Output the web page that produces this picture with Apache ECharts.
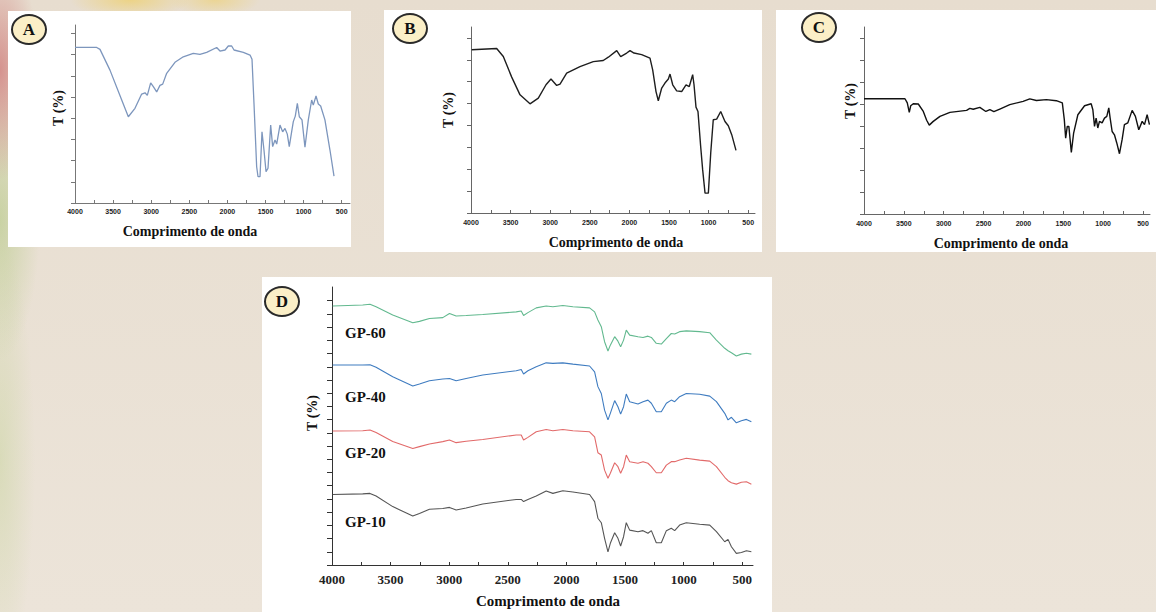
<!DOCTYPE html>
<html>
<head>
<meta charset="utf-8">
<script src="https://cdn.jsdelivr.net/npm/echarts@6/dist/echarts.min.js"></script>
<style>
  html, body { margin: 0; padding: 0; }
  body {
    width: 1156px; height: 612px; overflow: hidden; position: relative;
    background:
      radial-gradient(ellipse 40px 110px at 0px 70px, rgba(205, 115, 115, 0.7), transparent),
      radial-gradient(ellipse 40px 140px at 0px 220px, rgba(175, 200, 125, 0.55), transparent),
      radial-gradient(ellipse 35px 220px at 0px 460px, rgba(195, 210, 150, 0.45), transparent),
      radial-gradient(ellipse 60px 18px at 130px 0px, rgba(238, 208, 110, 0.75), transparent),
      radial-gradient(ellipse 45px 16px at 215px 0px, rgba(238, 208, 110, 0.6), transparent),
      linear-gradient(#e7ddcf, #ece4d9);
  }
  .panel { position: absolute; background: #fff; }
  .tag {
    position: absolute; width: 32px; height: 27px; margin: -15px 0 0 -17px;
    border: 2px solid #2a2a2a; border-radius: 50%; background: #fbefc7;
    font: bold 17px "Liberation Serif", serif; color: #111;
    text-align: center; line-height: 27px;
  }
  #chart { position: absolute; left: 0; top: 0; width: 1156px; height: 612px; }
</style>
</head>
<body>
<div class="panel" style="left:8px;top:11px;width:343px;height:236px"></div>
<div class="panel" style="left:384px;top:10px;width:378px;height:242px"></div>
<div class="panel" style="left:776px;top:10px;width:380px;height:242px"></div>
<div class="panel" style="left:262px;top:277px;width:510px;height:335px"></div>
<div class="tag" style="left:28px;top:29px">A</div>
<div class="tag" style="left:409px;top:28px">B</div>
<div class="tag" style="left:818px;top:27px">C</div>
<div class="tag" style="left:281px;top:301px">D</div>
<div id="chart"></div>
<script>
// wavenumber tick labels and tick marks shared by all panels
const xTickLabels = [4000, 3500, 3000, 2500, 2000, 1500, 1000, 500];
const xTickMarks = [4000, 3750, 3500, 3250, 3000, 2750, 2500, 2250, 2000, 1750, 1500, 1250, 1000, 750, 500];
const yTicksABC = [0, 10, 20, 30, 40, 50, 60, 70, 80];
const yTicksD = [0, 5, 10, 15, 20, 25, 30, 35, 40, 45, 50, 55, 60, 65, 70, 75, 80, 85, 90, 95, 100];

// A
const aWave = [4000, 3715, 3672, 3541, 3387, 3300, 3213, 3125, 3081, 3051, 3007, 2972, 2928, 2885, 2849, 2797, 2688, 2579, 2448, 2360, 2272, 2141, 2097, 2031, 1988, 1944, 1913, 1791, 1703, 1677, 1651, 1616, 1598, 1572, 1546, 1520, 1493, 1467, 1432, 1406, 1375, 1353, 1310, 1275, 1244, 1214, 1188, 1157, 1135, 1109, 1082, 1056, 1021, 982, 938, 894, 873, 837, 807, 776, 720, 654, 601];
const aT = [73.4, 73.4, 72.5, 62.7, 48.6, 40.7, 44.7, 51.4, 52, 50.8, 56.7, 54.9, 52.4, 55.5, 56.1, 61.2, 66.4, 69, 70.6, 70.1, 71.1, 73.4, 71.7, 72.2, 74.1, 74.1, 72.2, 71.1, 69.8, 67.8, 47, 17.1, 12.4, 12.4, 33.6, 25, 14.8, 16.4, 36.8, 26.6, 29.7, 27.8, 36.8, 33.6, 35.2, 32.5, 26.6, 33.6, 38.4, 41, 47, 40.7, 39.2, 26.3, 39.2, 48.6, 46.2, 50.5, 46.7, 45.8, 39.2, 25, 12.7];

// B
const bWave = [3991, 3676, 3592, 3486, 3381, 3255, 3150, 3053, 2990, 2918, 2876, 2792, 2624, 2456, 2330, 2266, 2160, 2110, 2034, 1992, 1942, 1845, 1740, 1706, 1664, 1635, 1592, 1551, 1508, 1487, 1453, 1403, 1340, 1285, 1244, 1201, 1184, 1159, 1134, 1100, 1075, 1045, 1003, 973, 941, 898, 847, 793, 751, 708, 654];
const bT = [74.6, 75.2, 71.5, 62.1, 54, 49.9, 52.5, 58.6, 61.2, 58.3, 58.9, 63.9, 66.9, 69.2, 69.7, 71.2, 74.2, 71.5, 73.1, 74.2, 73.1, 72.4, 70.8, 65.4, 55.5, 51.3, 57.1, 59.4, 61.2, 63.5, 58.6, 55.8, 55.5, 58.6, 57.8, 63.2, 58.6, 48.4, 46.4, 30.4, 19.8, 9.1, 9.1, 27.4, 42.6, 42.9, 46.4, 41.8, 39.9, 35.8, 28.6];

// C
const cWave = [4000, 3486, 3457, 3432, 3414, 3382, 3319, 3256, 3214, 3181, 3131, 3047, 2922, 2713, 2672, 2630, 2547, 2471, 2421, 2371, 2296, 2171, 2004, 1920, 1837, 1712, 1587, 1512, 1487, 1470, 1450, 1430, 1399, 1370, 1317, 1233, 1150, 1129, 1108, 1088, 1067, 1046, 1013, 983, 954, 929, 912, 887, 858, 829, 795, 762, 733, 691, 636, 595, 553, 510, 481, 448, 419];
const cT = [52.4, 52.4, 50.5, 46.2, 49.2, 50.1, 50, 46.6, 42.6, 40.4, 42.1, 44.4, 46.2, 47.1, 48, 47.6, 48.5, 46.6, 47.4, 46.5, 47.7, 49.7, 51.2, 52.3, 51.6, 52, 51.5, 50.5, 42.9, 34.5, 39.8, 39.8, 28, 36.8, 45.1, 49.2, 50.1, 47.4, 39.8, 43.6, 39.1, 42.1, 41.4, 43.6, 44.4, 48.2, 43.6, 37.5, 36, 32.3, 27.4, 33.8, 40.6, 41.4, 47.1, 44.4, 38.3, 42.1, 40.6, 45.1, 40.6];

// D (stacked, offset spectra)
const dWave = [3994, 3738, 3676, 3624, 3482, 3311, 3254, 3169, 3055, 2998, 2941, 2856, 2714, 2429, 2386, 2366, 2329, 2258, 2173, 2116, 2031, 1945, 1803, 1760, 1732, 1703, 1675, 1646, 1626, 1589, 1561, 1538, 1513, 1490, 1461, 1390, 1347, 1305, 1276, 1234, 1191, 1148, 1106, 1077, 1035, 978, 864, 778, 721, 650, 622, 593, 551, 508, 465, 423];
const gp60 = [98.0, 98.4, 98.7, 97.7, 94.6, 91.7, 92.2, 93.3, 93.6, 95.2, 94.2, 94.4, 94.8, 95.8, 96.1, 94.4, 95.5, 97.3, 98.0, 97.7, 98.2, 97.7, 97.3, 95.8, 92.7, 90.2, 84.5, 81.0, 83.2, 86.4, 84.7, 82.6, 85.1, 88.9, 87.0, 86.4, 86.1, 86.6, 86.1, 83.9, 83.6, 85.7, 87.6, 87.4, 88.3, 88.6, 88.3, 87.9, 85.1, 82.0, 81.1, 80.3, 79.1, 79.8, 80.1, 79.8];
const gp40 = [75.7, 75.7, 75.8, 74.8, 71.2, 67.7, 68.5, 69.7, 70.4, 70.6, 69.7, 70.6, 71.9, 73.5, 74.0, 72.3, 73.5, 75.0, 76.5, 76.3, 76.5, 76.0, 75.3, 73.1, 67.5, 64.9, 58.6, 54.9, 57.4, 62.2, 59.9, 57.1, 59.9, 64.7, 61.8, 60.9, 61.8, 62.4, 61.2, 58.0, 58.0, 61.2, 62.4, 61.8, 63.7, 64.9, 64.6, 63.9, 61.8, 57.4, 54.9, 55.9, 53.8, 54.6, 55.1, 54.2];
const gp20 = [50.7, 50.8, 51.1, 50.1, 46.7, 44.1, 44.8, 45.8, 46.7, 47.3, 46.3, 46.8, 47.5, 49.2, 49.2, 47.3, 48.3, 50.4, 51.3, 50.8, 51.3, 50.8, 50.4, 48.5, 42.5, 41.6, 35.9, 32.8, 34.7, 38.7, 37.2, 34.7, 37.2, 41.6, 39.1, 38.5, 39.1, 38.5, 37.2, 34.9, 34.9, 37.8, 39.1, 39.1, 39.7, 40.4, 39.7, 39.3, 37.2, 33.2, 31.9, 31.1, 30.6, 31.3, 31.5, 30.6];
const gp10 = [26.7, 26.9, 27.1, 26.1, 22.1, 18.5, 19.5, 21.1, 21.4, 21.8, 20.8, 21.6, 23.1, 24.8, 24.8, 24.0, 24.8, 26.1, 28.0, 27.1, 28.1, 27.6, 26.7, 24.0, 17.7, 16.0, 10.1, 5.0, 8.2, 12.2, 10.1, 7.2, 10.7, 16.0, 13.2, 12.6, 13.0, 12.0, 13.0, 8.4, 8.4, 13.0, 13.9, 13.0, 15.1, 16.0, 15.4, 15.1, 12.6, 8.8, 9.7, 6.9, 4.4, 4.7, 5.4, 5.0];

const serif = '"Liberation Serif", "DejaVu Serif", serif';
const sans = '"Liberation Sans", Arial, sans-serif';

function xAxisFor(grid, min, color, lblSize, lblFont, margin) {
  return {
    type: 'value', gridIndex: grid, min: min, max: 4000, inverse: true,
    axisLine: { show: true, onZero: false, lineStyle: { color: color, width: 1 } },
    axisTick: { show: true, inside: true, length: 3, customValues: xTickMarks, lineStyle: { color: color } },
    axisLabel: {
      customValues: xTickLabels, margin: margin, fontSize: lblSize, fontWeight: 'bold',
      fontFamily: lblFont, color: '#222', formatter: (v) => String(v)
    },
    splitLine: { show: false }
  };
}

function yAxisFor(grid, max, ticks, color, len) {
  return {
    type: 'value', gridIndex: grid, min: 0, max: max,
    axisLine: { show: true, onZero: false, lineStyle: { color: color, width: 1 } },
    axisTick: { show: true, length: len, customValues: ticks, lineStyle: { color: color } },
    axisLabel: { show: false },
    splitLine: { show: false }
  };
}

function spectrum(name, xi, yi, wave, vals, color, width) {
  return {
    name: name, type: 'line', xAxisIndex: xi, yAxisIndex: yi,
    data: wave.map((w, i) => [w, vals[i]]),
    showSymbol: false, symbol: 'none', silent: true,
    lineStyle: { color: color, width: width }
  };
}

function txt(label, x, y, size, rotate, align) {
  return {
    type: 'text', x: x, y: y, rotation: rotate ? Math.PI / 2 : 0,
    style: { text: label, font: 'bold ' + size + 'px ' + serif, fill: '#111', align: align || 'center', verticalAlign: 'middle' }
  };
}

const chart = echarts.init(document.getElementById('chart'), null, { renderer: 'svg' });

chart.setOption({
  animation: false,
  backgroundColor: 'transparent',
  grid: [
    { left: 75, top: 25, width: 275, height: 178 },
    { left: 471, top: 27, width: 284, height: 186 },
    { left: 864, top: 27, width: 286, height: 187 },
    { left: 332, top: 287, width: 421, height: 278 }
  ],
  xAxis: [
    xAxisFor(0, 391, '#777', 7, sans, 5),
    xAxisFor(1, 414, '#666', 7, sans, 6),
    xAxisFor(2, 412, '#666', 7, sans, 6),
    xAxisFor(3, 409, '#333', 13, serif, 8)
  ],
  yAxis: [
    yAxisFor(0, 84, yTicksABC, '#777', 4),
    yAxisFor(1, 85, yTicksABC, '#666', 4),
    yAxisFor(2, 85, yTicksABC, '#666', 4),
    yAxisFor(3, 105.2, yTicksD, '#333', 5)
  ],
  series: [
    spectrum('A', 0, 0, aWave, aT, '#7d96bd', 1.3),
    spectrum('B', 1, 1, bWave, bT, '#1e1e1e', 1.4),
    spectrum('C', 2, 2, cWave, cT, '#111111', 1.4),
    spectrum('GP-60', 3, 3, dWave, gp60, '#62b98f', 1.1),
    spectrum('GP-40', 3, 3, dWave, gp40, '#3f7cc0', 1.1),
    spectrum('GP-20', 3, 3, dWave, gp20, '#e26a6a', 1.1),
    spectrum('GP-10', 3, 3, dWave, gp10, '#555555', 1.1)
  ],
  graphic: [
    txt('T (%)', 58, 108, 14, true),
    txt('T (%)', 448, 110, 14, true),
    txt('T (%)', 850, 101, 14, true),
    txt('T (%)', 312, 413, 14, true),
    txt('Comprimento de onda', 190, 231, 14),
    txt('Comprimento de onda', 616, 242, 14),
    txt('Comprimento de onda', 1001, 243, 14),
    txt('Comprimento de onda', 548, 601, 15),
    txt('GP-60', 345, 333, 15, false, 'left'),
    txt('GP-40', 345, 397, 15, false, 'left'),
    txt('GP-20', 345, 453, 15, false, 'left'),
    txt('GP-10', 345, 522, 15, false, 'left')
  ]
});
</script>
</body>
</html>
